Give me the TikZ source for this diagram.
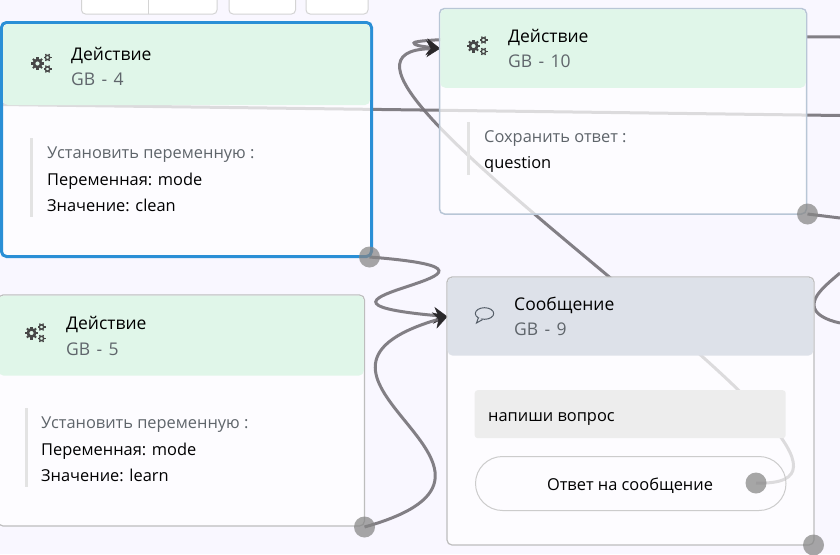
\documentclass[tikz,border=0pt]{standalone}
\usepackage{fontspec}
\setmainfont{Open Sans}
\newfontfamily\subfont{Open Sans}[WordSpace=1.4]
\usetikzlibrary{positioning,arrows.meta,calc}
\pgfdeclarelayer{back}
\pgfsetlayers{back,main}
\definecolor{pagebg}{HTML}{F9F7FF}
\definecolor{actgreen}{HTML}{E0F6E9}
\definecolor{msgblue}{HTML}{DDE1E9}
\definecolor{selblue}{HTML}{2A8FD6}
\definecolor{edgeblue}{HTML}{B8C6D6}
\definecolor{edgegray}{HTML}{BDBDBD}
\definecolor{subgray}{HTML}{5F656B}
\definecolor{wiregray}{HTML}{767278}
\definecolor{tipdark}{HTML}{2A282B}
\definecolor{bubblegray}{HTML}{555E68}
\tikzset{
	card/.style={rectangle,rounded corners=5pt,fill=white,fill opacity=.72,text opacity=1,anchor=north west,outer sep=0pt,inner sep=0pt},
	headbox/.style={rectangle,rounded corners=5pt,outer sep=0pt,inner sep=0pt,anchor=north},
	titletext/.style={anchor=base west,inner sep=0pt,font=\fontsize{17.5}{20}\selectfont,text=black},
	subtext/.style={anchor=base west,inner sep=0pt,font=\subfont\fontsize{17.5}{20}\selectfont,text=subgray},
	bodytext/.style={anchor=base west,inner sep=0pt,font=\fontsize{16.4}{20}\selectfont,text=black},
	labeltext/.style={anchor=base west,inner sep=0pt,font=\fontsize{16.4}{20}\selectfont,text=subgray},
	sidebar/.style={rectangle,fill=black!11,anchor=north west,inner sep=0pt,outer sep=0pt,minimum width=3pt},
	toolbox/.style={rectangle,rounded corners=4pt,draw=black!17,fill=white,line width=1pt,anchor=south west,inner sep=0pt,outer sep=0pt,minimum height=30pt},
	port/.style={circle,fill=black!48,fill opacity=.72,inner sep=0pt,outer sep=0pt,minimum size=21pt},
	wire/.style={draw=wiregray,draw opacity=.9,line width=3pt},
	wiretip/.style={wire,-{Stealth[length=14pt,width=17pt,inset=4.5pt,color=tipdark,fill=tipdark,line width=.5pt]}},
	gearicon/.pic={
		\draw[black!72,line width=2.6pt] (0,0) circle (3.6);
		\foreach \a in {0,45,...,315} \draw[black!72,line width=2.1pt] (\a:4) -- (\a:6.5);
		\foreach \dy in {-6,5.5} {
			\draw[black!72,line width=1.4pt] (10,\dy) circle (2.2);
			\foreach \a in {0,60,...,300} \draw[black!72,line width=1.3pt] ($(10,\dy)+(\a:2.4)$) -- ($(10,\dy)+(\a:4)$);
		}
	},
}
\begin{document}
\begin{tikzpicture}[x=1pt,y=-1pt]
\useasboundingbox (0,0) rectangle (840,554);
\begin{pgfonlayer}{back}
	\fill[pagebg] (0,0) rectangle (840,554);
\end{pgfonlayer}
% toolbar leftovers
\node[toolbox,minimum width=135.5pt] (toolpair) at (81.5,14) {};
\draw[black!17,line width=1pt] (toolpair.south) ++(-1.25,0) -- ++(0,-14);
\node[toolbox,minimum width=66.5pt] (toolfour) at (229,14) {};
\node[toolbox,minimum width=62pt] (toolfive) at (306,14) {};
% cards
\foreach \nm/\x/\y/\W/\H/\Hh/\bc/\lw/\hc in {
	gbfour/1.5/22.5/370/234/81/selblue/3/actgreen,
	gbten/439.5/8.5/367/205.5/78.5/edgeblue/1.5/actgreen,
	gbfive/-2/295/366.5/231/80/edgegray/1.2/actgreen,
	gbnine/447/277/367/268/78/edgegray/1.2/msgblue} {
	\node[card,draw=\bc,line width=\lw pt,minimum width=\W pt,minimum height=\H pt] (\nm) at (\x,\y) {};
	\node[headbox,fill=\hc,minimum width=\W pt-\lw pt,minimum height=\Hh pt,below=.5*\lw pt of \nm.north,anchor=north] (head\nm) {};
}
% icons
\path (37.5,63.5) pic {gearicon};
\path (473.5,46) pic {gearicon};
\path (31.5,333) pic {gearicon};
\draw[bubblegray,line width=1pt] (484.5,313.5) ellipse (9.2 and 5.8);
\fill[msgblue] (478.5,317) -- (482,319) -- (479,320) -- cycle;
\draw[bubblegray,line width=1pt] (478.5,317.5) -- (476.5,323) -- (482.5,319.6);
% titles
\foreach \nm/\x/\ya/\yb/\ttl/\sub in {
	four/71/60.5/85/Действие/GB - 4,
	ten/508/42.5/67.5/Действие/GB - 10,
	five/66/329.5/355.5/Действие/GB - 5,
	nine/514/310.5/335.5/Сообщение/GB - 9} {
	\node[titletext] (title\nm) at (\x,\ya) {\ttl};
	\node[subtext] (sub\nm) at (\x,\yb) {\sub};
}
% body of the action cards
\node[sidebar,minimum height=79pt] (barfour) at (30,138) {};
\node[labeltext] (labelfour) at (47,158) {Установить переменную :};
\node[bodytext] (varfour) at (47,185) {Переменная: mode};
\node[bodytext] (valfour) at (47,211) {Значение: clean};
\node[sidebar,minimum height=53pt] (barten) at (466.5,122) {};
\node[labeltext] (labelten) at (484,142) {Сохранить ответ :};
\node[bodytext] (varten) at (484,168) {question};
\node[sidebar,minimum height=79pt] (barfive) at (25,408) {};
\node[labeltext] (labelfive) at (41,428) {Установить переменную :};
\node[bodytext] (varfive) at (41,455) {Переменная: mode};
\node[bodytext] (valfive) at (41,481) {Значение: learn};
% message card
\node[rectangle,rounded corners=3pt,fill=black!7,anchor=north west,inner sep=0pt,minimum width=311pt,minimum height=48pt] (msgbox) at (474.5,390) {};
\node[bodytext] (msgtext) at (488,421) {напиши вопрос};
\node[rectangle,rounded corners=27pt,draw=black!20,line width=1pt,anchor=north west,inner sep=0pt,minimum width=310.5pt,minimum height=54pt] (reply) at (475,456) {};
\node[bodytext,anchor=base] (replytext) at (630,490.5) {Ответ на сообщение};
% ports
\node[port] (portfour) at (369.5,257) {};
\node[port] (portten) at (807.5,214) {};
\node[port] (portfive) at (364.5,527) {};
\node[port] (portnine) at (813.5,545) {};
\node[port] (portreply) at (756,483) {};
% free ends at the edge
\coordinate (leftend) at (0,104.5);
\coordinate (rightend) at (840,115.5);
\coordinate (topend) at (840,37);
\coordinate (turnend) at (414,43);
\coordinate (midend) at (840,218);
\coordinate (loopa) at (840,273);
\coordinate (loopb) at (840,323);
% connectors
\begin{pgfonlayer}{back}
	\draw[wire] (leftend) -- (rightend);
	\draw[wire] (portten.center) -- (midend);
	\draw[wire] (loopa) .. controls (822,288) and (814,296) .. (814,305) .. controls (814,314) and (826,320) .. (loopb);
	\draw[wiretip] (topend) .. controls (600,36) and (414,37) .. (turnend) .. controls (414,46) and (428,47) .. (headgbten.west);
	\draw[wiretip] (portreply.center) .. controls (962,490) and (244,52) .. (headgbten.west);
	\draw[wiretip] (portfour.center) .. controls (572,273) and (248,299) .. (headgbnine.west);
	\draw[wiretip] (portfive.center) .. controls (568,470) and (248,375) .. (headgbnine.west);
\end{pgfonlayer}
\end{tikzpicture}
\end{document}
